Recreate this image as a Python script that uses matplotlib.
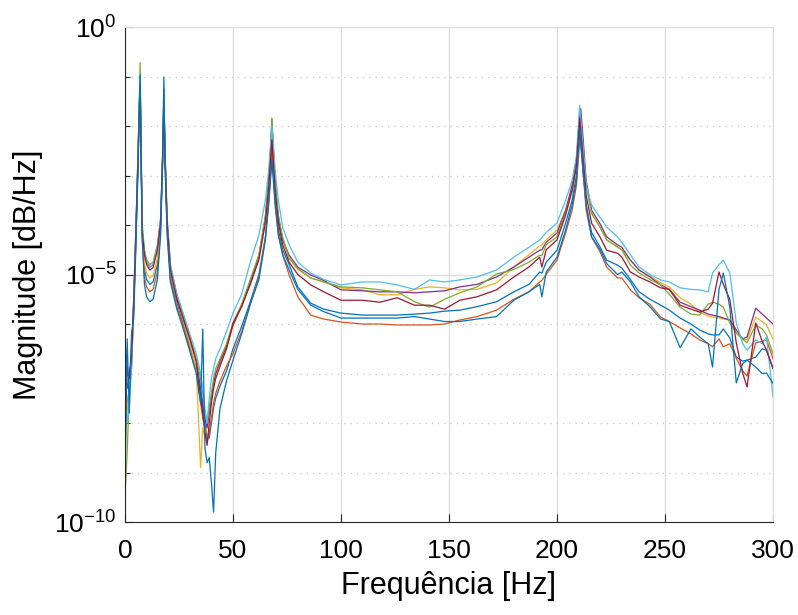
import numpy as np
import matplotlib
matplotlib.use("Agg")
import matplotlib.pyplot as plt
from matplotlib.ticker import FixedLocator, NullFormatter

plt.rcParams['font.family'] = ['Liberation Sans', 'DejaVu Sans']
plt.rcParams['mathtext.fontset'] = 'custom'
plt.rcParams['mathtext.rm'] = 'Liberation Sans'
plt.rcParams['mathtext.it'] = 'Liberation Sans'
plt.rcParams['axes.unicode_minus'] = False

# frequency axis shared by all measurements [Hz]
freq = [0, 1, 2, 3, 4, 5, 6, 6.5, 7, 7.5,
        8, 9, 10, 11.5, 13, 15, 16.5, 17.5, 18, 18.5,
        19.5, 21, 24, 27, 30, 33, 35, 36, 37, 38,
        39, 40, 41, 42, 44, 47, 50, 54, 58, 62,
        65, 66.5, 67.5, 68, 68.5, 69.5, 71, 73, 76, 80,
        86, 92, 100, 110, 118, 126, 134, 141, 148, 155,
        163, 172, 180, 187, 192, 193, 195, 200, 204, 207,
        209, 210.5, 211, 212, 213.5, 216, 220, 223, 228, 230,
        234, 238, 243, 248, 252, 257, 262, 266, 270, 272,
        275, 277, 280, 283, 286, 288, 292, 295, 297, 300]

# log10 of magnitude for each measurement
log_blue1 = [-6.4, -6.8, -7.4, -6.5, -5.7, -4.35, -2.75, -1.85, -1.1, -2.7,
             -4.2, -4.9, -5.1, -5.2, -5.15, -4.8, -4.0, -2.6, -1.25, -2.6,
             -4.0, -5.0, -5.55, -6.0, -6.45, -6.9, -7.4, -7.7, -8.0, -8.3,
             -8.3, -8.0, -7.7, -7.5, -7.25, -6.95, -6.5, -6.05, -5.55, -5.0,
             -4.25, -3.55, -2.9, -2.5, -2.85, -3.5, -4.1, -4.5, -4.8, -5.25,
             -5.58, -5.7, -5.78, -5.82, -5.82, -5.82, -5.8, -5.78, -5.74, -5.72,
             -5.65, -5.55, -5.35, -5.2, -4.95, -4.97, -4.75, -4.51, -3.96, -3.5,
             -3.0, -2.18, -2.4, -2.9, -3.6, -4.15, -4.45, -4.71, -4.81, -4.87,
             -5.1, -5.35, -5.5, -5.62, -5.72, -5.88, -6.0, -6.12, -6.2, -6.22,
             -6.22, -6.1, -6.28, -6.67, -6.75, -6.73, -6.67, -6.5, -6.53, -6.9]

log_orange = [-8.0, -7.6, -7.3, -6.9, -5.8, -4.4, -2.8, -2.0, -1.2, -2.8,
              -4.3, -5.05, -5.25, -5.35, -5.3, -4.95, -4.1, -2.7, -1.6, -2.7,
              -4.1, -5.1, -5.65, -6.05, -6.5, -6.95, -7.6, -7.9, -8.1, -8.4,
              -8.2, -7.9, -7.6, -7.4, -7.15, -6.85, -6.6, -6.15, -5.6, -5.05,
              -4.25, -3.5, -2.8, -2.4, -2.8, -3.5, -4.2, -4.6, -5.01, -5.45,
              -5.82, -5.9, -5.96, -6.0, -6.0, -6.02, -6.02, -6.02, -6.0, -5.92,
              -5.85, -5.72, -5.5, -5.35, -5.15, -5.12, -5.0, -4.71, -4.16, -3.7,
              -3.2, -2.3, -2.2, -2.9, -3.7, -4.24, -4.55, -4.85, -5.07, -5.07,
              -5.31, -5.47, -5.6, -5.86, -5.95, -6.08, -6.2, -6.32, -6.4, -6.46,
              -6.3, -6.46, -6.4, -6.69, -6.95, -7.05, -6.38, -6.35, -6.32, -6.7]

log_yellow = [-8.5, -7.8, -7.2, -6.9, -5.7, -4.3, -2.7, -1.85, -1.05, -2.7,
              -4.2, -4.77, -4.97, -5.07, -5.02, -4.67, -4.0, -2.6, -1.5, -2.6,
              -4.0, -4.95, -5.5, -5.95, -6.4, -6.9, -8.9, -8.1, -8.3, -8.0,
              -7.7, -7.45, -7.2, -7.0, -6.8, -6.5, -6.05, -5.65, -5.15, -4.65,
              -3.85, -3.15, -2.45, -1.9, -2.4, -3.2, -3.9, -4.3, -4.67, -4.9,
              -5.07, -5.15, -5.27, -5.31, -5.41, -5.41, -5.3, -5.25, -5.27, -5.31,
              -5.3, -5.17, -4.85, -4.6, -4.42, -4.4, -4.3, -4.1, -3.7, -3.3,
              -2.8, -1.9, -2.0, -2.4, -3.2, -3.76, -4.05, -4.3, -4.45, -4.5,
              -4.71, -4.91, -5.03, -5.17, -5.25, -5.47, -5.6, -5.76, -5.84, -5.86,
              -5.88, -5.9, -5.92, -6.18, -6.32, -6.32, -5.86, -5.95, -6.02, -6.3]

log_purple = [-7.0, -7.3, -7.0, -6.6, -5.5, -4.1, -2.6, -1.8, -1.0, -2.6,
              -4.1, -4.55, -4.75, -4.85, -4.8, -4.45, -3.9, -2.5, -1.45, -2.5,
              -3.9, -4.85, -5.45, -5.85, -6.3, -6.75, -7.3, -7.6, -7.9, -8.1,
              -7.8, -7.5, -7.2, -7.0, -6.75, -6.45, -6.02, -5.62, -5.15, -4.62,
              -3.85, -3.1, -2.4, -1.86, -2.35, -3.15, -3.85, -4.3, -4.61, -4.85,
              -5.01, -5.12, -5.31, -5.33, -5.35, -5.35, -5.37, -5.35, -5.33, -5.25,
              -5.2, -5.05, -4.85, -4.65, -4.51, -4.5, -4.35, -4.16, -3.7, -3.2,
              -2.7, -1.75, -1.65, -2.2, -3.1, -3.7, -3.98, -4.24, -4.4, -4.45,
              -4.71, -4.91, -5.05, -5.21, -5.3, -5.56, -5.65, -5.72, -5.8, -5.82,
              -5.85, -5.88, -5.92, -6.12, -6.3, -6.26, -5.68, -5.8, -5.88, -6.0]

log_green = [-9.5, -8.6, -7.4, -6.8, -5.6, -4.2, -2.6, -1.7, -0.72, -2.5,
             -4.0, -4.5, -4.7, -4.8, -4.75, -4.4, -3.85, -2.45, -1.35, -2.45,
             -3.85, -4.8, -5.4, -5.8, -6.25, -6.7, -7.1, -7.4, -7.8, -8.0,
             -7.7, -7.4, -7.1, -6.9, -6.7, -6.4, -5.98, -5.6, -5.1, -4.6,
             -3.8, -3.1, -2.4, -1.84, -2.3, -3.1, -3.8, -4.25, -4.67, -4.88,
             -5.07, -5.15, -5.25, -5.27, -5.31, -5.35, -5.55, -5.66, -5.5, -5.37,
             -5.25, -4.99, -4.9, -4.75, -4.61, -4.62, -4.4, -4.24, -3.75, -3.3,
             -2.8, -1.9, -1.95, -2.4, -3.2, -3.76, -4.05, -4.3, -4.44, -4.5,
             -4.81, -4.97, -5.1, -5.21, -5.4, -5.66, -5.8, -5.82, -5.6, -5.56,
             -5.6, -5.66, -5.98, -6.18, -6.3, -6.38, -6.02, -6.1, -6.22, -6.6]

log_lightblue = [-7.5, -8.0, -7.6, -6.9, -5.65, -4.25, -2.65, -1.8, -1.0, -2.6,
                 -4.1, -4.55, -4.75, -4.85, -4.8, -4.45, -3.9, -2.5, -1.4, -2.5,
                 -3.9, -4.8, -5.4, -5.8, -6.2, -6.6, -7.0, -7.3, -7.7, -8.0,
                 -7.5, -7.1, -6.9, -6.7, -6.5, -6.15, -5.78, -5.4, -4.75, -4.2,
                 -3.5, -2.9, -2.3, -2.0, -2.2, -2.9, -3.5, -4.05, -4.4, -4.75,
                 -4.97, -5.1, -5.21, -5.15, -5.15, -5.21, -5.3, -5.11, -5.15, -5.11,
                 -5.05, -4.91, -4.65, -4.45, -4.3, -4.25, -4.15, -3.96, -3.5, -3.1,
                 -2.6, -1.58, -1.85, -2.4, -3.2, -3.6, -3.85, -4.04, -4.24, -4.35,
                 -4.6, -4.85, -5.0, -5.11, -5.15, -5.27, -5.3, -5.31, -5.35, -4.97,
                 -4.8, -4.71, -4.97, -5.98, -6.4, -6.53, -6.32, -6.4, -6.26, -7.47]

log_darkred = [-6.8, -7.0, -7.1, -6.7, -5.6, -4.2, -2.7, -1.9, -1.15, -2.7,
               -4.15, -4.6, -4.8, -4.91, -4.86, -4.5, -3.95, -2.55, -1.5, -2.55,
               -3.95, -4.9, -5.5, -5.9, -6.3, -6.75, -7.5, -7.8, -8.2, -8.45,
               -8.0, -7.6, -7.3, -7.1, -6.85, -6.5, -5.98, -5.65, -5.2, -4.7,
               -3.95, -3.25, -2.6, -2.28, -2.6, -3.3, -3.95, -4.4, -4.75, -5.0,
               -5.21, -5.35, -5.52, -5.52, -5.56, -5.47, -5.62, -5.62, -5.7, -5.52,
               -5.45, -5.31, -5.05, -4.85, -4.65, -4.85, -4.5, -4.3, -3.8, -3.3,
               -2.8, -1.84, -2.1, -2.6, -3.4, -3.96, -4.25, -4.51, -4.57, -4.65,
               -4.95, -5.05, -5.15, -5.27, -5.3, -5.62, -5.7, -5.76, -5.7, -5.58,
               -4.95, -5.2, -5.5, -6.38, -7.0, -7.27, -5.98, -6.35, -6.53, -6.9]

log_blue2 = [-9.4, -6.3, -7.8, -6.2, -5.9, -4.5, -2.9, -1.9, -0.97, -2.8,
             -4.3, -5.2, -5.45, -5.55, -5.5, -5.1, -4.2, -2.4, -1.01, -2.7,
             -4.2, -5.15, -5.7, -6.1, -6.55, -7.0, -7.6, -6.1, -8.5, -8.8,
             -8.7, -9.2, -9.8, -8.6, -7.7, -7.15, -6.73, -6.2, -5.6, -5.1,
             -4.3, -3.6, -3.0, -2.69, -3.0, -3.6, -4.2, -4.6, -4.91, -5.3,
             -5.62, -5.75, -5.88, -5.88, -5.88, -5.88, -5.85, -5.9, -5.95, -5.95,
             -5.9, -5.85, -5.52, -5.35, -5.2, -5.45, -4.95, -4.65, -4.1, -3.6,
             -3.1, -2.05, -2.3, -2.8, -3.6, -4.24, -4.5, -4.78, -5.0, -4.95,
             -5.15, -5.45, -5.65, -5.9, -5.95, -6.48, -6.1, -6.26, -6.4, -6.87,
             -5.3, -4.97, -5.66, -7.19, -6.8, -6.73, -6.87, -7.0, -6.99, -7.2]

series = [log_blue1, log_orange, log_yellow, log_purple,
          log_green, log_lightblue, log_darkred, log_blue2]
colors = ['#0072BD', '#D95319', '#EDB120', '#7E2F8E',
          '#77AC30', '#4DBEEE', '#A2142F', '#0072BD']

fig = plt.figure(figsize=(7.98, 6.15), dpi=100)
ax = fig.add_axes([125 / 798, 1 - 522 / 615, 648 / 798, 495 / 615])

for s, c in zip(series, colors):
    ax.semilogy(freq, 10.0 ** np.array(s), color=c, linewidth=0.9)

ax.set_xlim(0, 300)
ax.set_ylim(1e-10, 1e0)
ax.set_xticks([0, 50, 100, 150, 200, 250, 300])
ax.set_yticks([1e-10, 1e-5, 1e0])
ax.set_yticklabels(['$10^{-10}$', '$10^{-5}$', '$10^{0}$'])
ax.yaxis.set_minor_locator(FixedLocator([10.0 ** k for k in range(-9, 0) if k != -5]))
ax.yaxis.set_minor_formatter(NullFormatter())

ax.grid(True, which='major', color='#dcdcdc', linewidth=0.9, linestyle='-')
ax.grid(True, which='minor', axis='y', color='#c8c8c8', linewidth=0.9, linestyle=(0, (1, 4)))
ax.set_axisbelow(True)

ax.tick_params(which='both', direction='in', colors='#262626', labelsize=19,
               top=False, right=False)
ax.tick_params(which='major', length=6, width=0.8)
ax.tick_params(which='minor', length=3.5, width=0.8)
ax.tick_params(axis='x', pad=12)
ax.tick_params(axis='y', pad=6)
for t in ax.get_xticklabels() + ax.get_yticklabels():
    t.set_color('black')

ax.spines['left'].set_color('#262626')
ax.spines['bottom'].set_color('#262626')
ax.spines['top'].set_color('#dcdcdc')
ax.spines['right'].set_color('#dcdcdc')

ax.set_xlabel('Frequência [Hz]', fontsize=22, labelpad=6)
ax.set_ylabel('Magnitude [dB/Hz]', fontsize=22, labelpad=8)

fig.savefig('out.png', dpi=100)
